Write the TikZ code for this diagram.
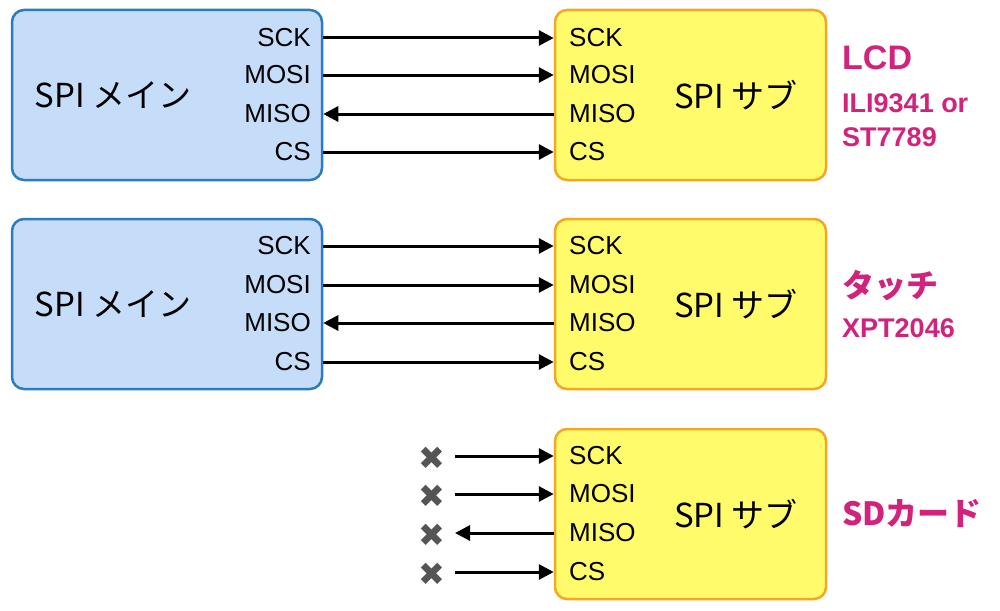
\documentclass[tikz,border=0pt]{standalone}
\usepackage{fontspec}
\setmainfont{Liberation Sans}
\newfontfamily\jp{Noto Sans CJK JP}
\newfontfamily\symfont{DejaVu Sans}
\usetikzlibrary{arrows.meta}
\definecolor{mainfill}{HTML}{C6DDF9}
\definecolor{mainborder}{HTML}{2B7BBE}
\definecolor{subfill}{HTML}{FFFB6B}
\definecolor{subborder}{HTML}{F5A623}
\definecolor{mag}{HTML}{D1227C}
\definecolor{xgray}{HTML}{555555}
\tikzset{
  mainbox/.style={draw=mainborder, fill=mainfill, line width=2.5pt, rounded corners=12pt,
    minimum width=310pt, minimum height=170pt, inner sep=0pt},
  subbox/.style={draw=subborder, fill=subfill, line width=2.5pt, rounded corners=12pt,
    minimum width=271pt, minimum height=170pt, inner sep=0pt},
  pinlbl/.style={inner sep=0pt, font=\fontsize{26}{26}\selectfont},
  title/.style={inner sep=0pt, font=\jp\fontsize{33}{33}\selectfont},
  devbig/.style={inner sep=0pt, anchor=west, text=mag, font=\bfseries\fontsize{34}{34}\selectfont},
  devjp/.style={inner sep=0pt, anchor=west, text=mag, font=\jp\bfseries\fontsize{32}{32}\selectfont},
  devsmall/.style={inner sep=0pt, anchor=west, text=mag, font=\bfseries\fontsize{27}{27}\selectfont},
  arr/.style={line width=3pt, -{Triangle[length=15pt,width=15pt]}},
  nc/.style={inner sep=0pt, text=xgray, font=\symfont\fontsize{32}{32}\selectfont},
}
\begin{document}
\begin{tikzpicture}[x=1pt,y=-1pt]
\useasboundingbox (0,0) rectangle (1000,610);
% ---- row 1 ----
\node[mainbox] (m1) at (167,95) {};
\node[subbox] (s1) at (690.5,95) {};
\node[title] (m1t) at (113,95) {SPI メイン};
\node[title] (s1t) at (736,95) {SPI サブ};
\node[pinlbl,anchor=east] (m1a) at (311,38) {SCK};
\node[pinlbl,anchor=east] (m1b) at (311,75) {MOSI};
\node[pinlbl,anchor=east] (m1c) at (311,114) {MISO};
\node[pinlbl,anchor=east] (m1d) at (311,152) {CS};
\node[pinlbl,anchor=west] (s1a) at (569,38) {SCK};
\node[pinlbl,anchor=west] (s1b) at (569,75) {MOSI};
\node[pinlbl,anchor=west] (s1c) at (569,114) {MISO};
\node[pinlbl,anchor=west] (s1d) at (569,152) {CS};
\draw[arr] (m1.east |- m1a.east) -- (s1.west |- s1a.west);
\draw[arr] (m1.east |- m1b.east) -- (s1.west |- s1b.west);
\draw[arr] (s1.west |- s1c.west) -- (m1.east |- m1c.east);
\draw[arr] (m1.east |- m1d.east) -- (s1.west |- s1d.west);
\node[devbig] (lcd) at (842,58) {LCD};
\node[devsmall] (lcd2) at (842,103) {ILI9341 or};
\node[devsmall] (lcd3) at (842,137) {ST7789};
% ---- row 2 ----
\node[mainbox] (m2) at (167,304) {};
\node[subbox] (s2) at (690.5,304) {};
\node[title] (m2t) at (113,304) {SPI メイン};
\node[title] (s2t) at (736,304) {SPI サブ};
\node[pinlbl,anchor=east] (m2a) at (311,246) {SCK};
\node[pinlbl,anchor=east] (m2b) at (311,285) {MOSI};
\node[pinlbl,anchor=east] (m2c) at (311,323) {MISO};
\node[pinlbl,anchor=east] (m2d) at (311,362) {CS};
\node[pinlbl,anchor=west] (s2a) at (569,246) {SCK};
\node[pinlbl,anchor=west] (s2b) at (569,285) {MOSI};
\node[pinlbl,anchor=west] (s2c) at (569,323) {MISO};
\node[pinlbl,anchor=west] (s2d) at (569,362) {CS};
\draw[arr] (m2.east |- m2a.east) -- (s2.west |- s2a.west);
\draw[arr] (m2.east |- m2b.east) -- (s2.west |- s2b.west);
\draw[arr] (s2.west |- s2c.west) -- (m2.east |- m2c.east);
\draw[arr] (m2.east |- m2d.east) -- (s2.west |- s2d.west);
\node[devjp] (touch) at (842,286) {タッチ};
\node[devsmall] (touch2) at (842,328) {XPT2046};
% ---- row 3 ----
\node[subbox] (s3) at (690.5,514) {};
\node[title] (s3t) at (736,514) {SPI サブ};
\node[pinlbl,anchor=west] (s3a) at (569,456) {SCK};
\node[pinlbl,anchor=west] (s3b) at (569,494) {MOSI};
\node[pinlbl,anchor=west] (s3c) at (569,533) {MISO};
\node[pinlbl,anchor=west] (s3d) at (569,572) {CS};
\node[nc] (x1) at (432,458) {✖};
\node[nc] (x2) at (432,496) {✖};
\node[nc] (x3) at (432,535) {✖};
\node[nc] (x4) at (432,574) {✖};
\coordinate (x1e) at ([xshift=23pt]x1.center |- s3a.west);
\coordinate (x2e) at ([xshift=23pt]x2.center |- s3b.west);
\coordinate (x3e) at ([xshift=23pt]x3.center |- s3c.west);
\coordinate (x4e) at ([xshift=23pt]x4.center |- s3d.west);
\draw[arr] (x1e) -- (s3.west |- s3a.west);
\draw[arr] (x2e) -- (s3.west |- s3b.west);
\draw[arr] (s3.west |- s3c.west) -- (x3e);
\draw[arr] (x4e) -- (s3.west |- s3d.west);
\node[devjp] (sd) at (842,514) {SDカード};
\end{tikzpicture}
\end{document}
